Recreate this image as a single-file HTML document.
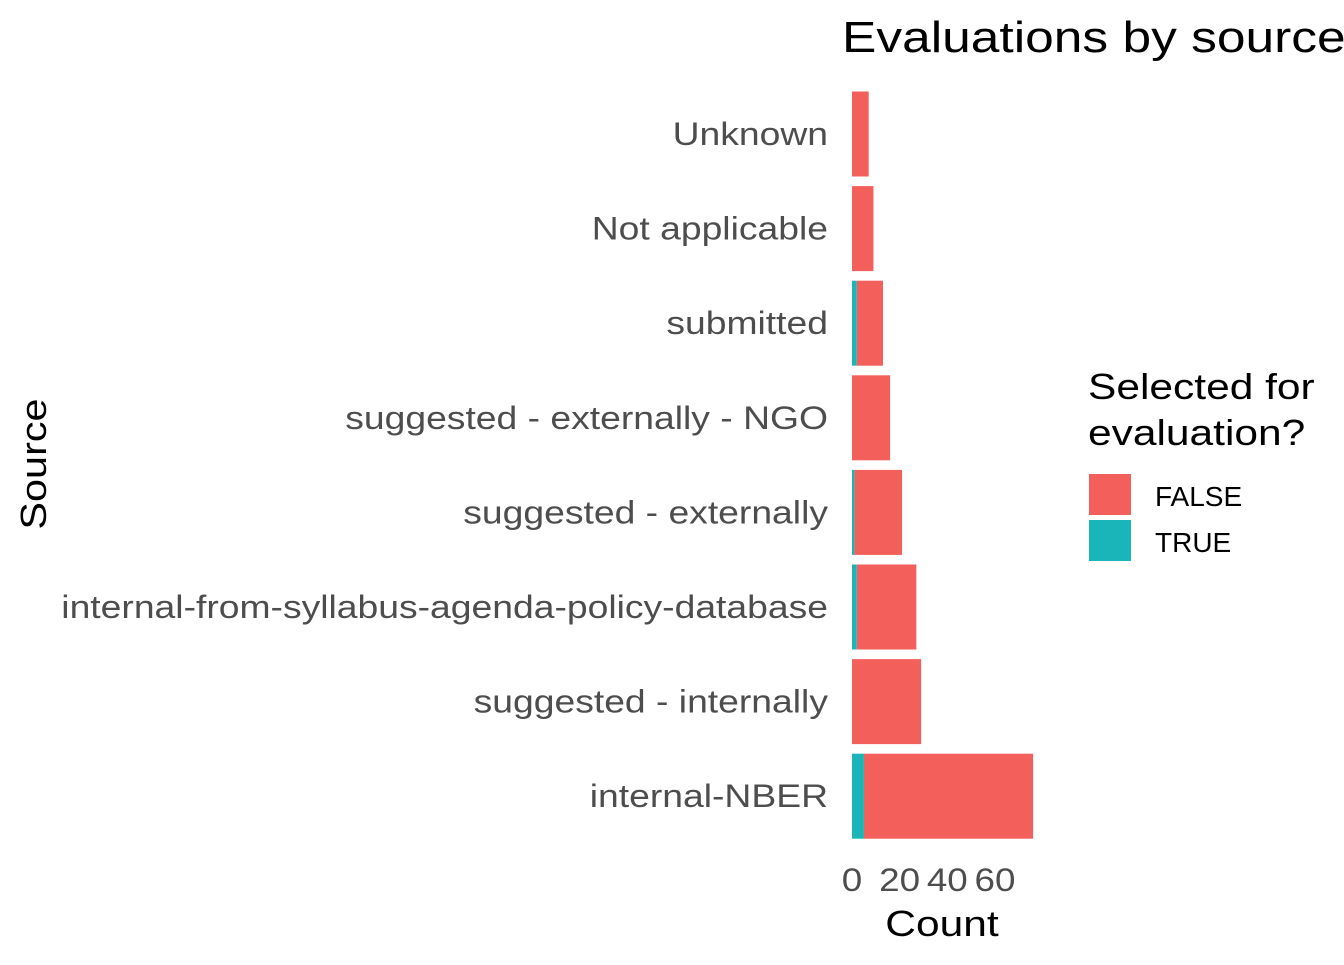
<!DOCTYPE html>
<html><head><meta charset="utf-8"><style>
body{margin:0;background:#fff;font-family:"Liberation Sans",Arial,sans-serif}
</style></head><body>
<svg width="1344" height="960" xmlns="http://www.w3.org/2000/svg" font-family="Liberation Sans, Arial, sans-serif">
<text class="st" data-f="1.17" x="842" y="52" font-size="44" fill="#000">Evaluations by source</text>
<g id="bars"></g>
<g id="ylabels"></g>
<g id="xticks"></g>
<text class="st" data-f="1.18" x="942" y="936" font-size="36" text-anchor="middle" fill="#000">Count</text>
<text class="st" data-f="1.15" transform="translate(46,464) rotate(-90)" x="0" y="0" font-size="36" text-anchor="middle" fill="#000">Source</text>
<g>
<text class="st" data-f="1.18" x="1088" y="399" font-size="36" fill="#000">Selected for</text>
<text class="st" data-f="1.18" x="1088" y="445" font-size="36" fill="#000">evaluation?</text>
<rect x="1089" y="474" width="42" height="41" fill="#F35F5B"/>
<text x="1155" y="506" font-size="28" fill="#000">FALSE</text>
<rect x="1089" y="520" width="42" height="41" fill="#1AB5B8"/>
<text x="1155" y="552" font-size="28" fill="#000">TRUE</text>
</g>
</svg>
<script>
const categories=["Unknown","Not applicable","submitted","suggested - externally - NGO","suggested - externally","internal-from-syllabus-agenda-policy-database","suggested - internally","internal-NBER"];
const totals=[7,9,13,16,21,27,29,76];
const trueCounts=[0,0,2,0,1,2,0,5];
const xTicks=[0,20,40,60];
const x0=852, pxPer=2.383;
function xs(v){return x0+v*pxPer;}
function yc(i){return 134+i*94.6;}
const NS="http://www.w3.org/2000/svg";
const bars=document.getElementById('bars');
const yl=document.getElementById('ylabels');
const xt=document.getElementById('xticks');
categories.forEach((c,i)=>{
  const t=trueCounts[i], tot=totals[i];
  const rf=document.createElementNS(NS,'rect');
  rf.setAttribute('x',xs(t));rf.setAttribute('width',xs(tot)-xs(t));
  rf.setAttribute('y',yc(i)-42.5);rf.setAttribute('height',85);rf.setAttribute('fill','#F35F5B');
  
  
  bars.appendChild(rf);
  if(t>0){
    const rt=document.createElementNS(NS,'rect');
    rt.setAttribute('x',xs(0));rt.setAttribute('width',xs(t)-xs(0));
    rt.setAttribute('y',yc(i)-42.5);rt.setAttribute('height',85);rt.setAttribute('fill','#1AB5B8');
    
    
    bars.appendChild(rt);
  }
  const tx=document.createElementNS(NS,'text');
  tx.setAttribute('x',828);tx.setAttribute('y',yc(i)+11);tx.setAttribute('text-anchor','end');
  tx.setAttribute('font-size','32');tx.setAttribute('fill','#4d4d4d');tx.textContent=c;
  tx.setAttribute('class','st');tx.setAttribute('data-f','1.165');
  
  
  yl.appendChild(tx);
});
xTicks.forEach(v=>{
  const tx=document.createElementNS(NS,'text');
  tx.setAttribute('x',xs(v));tx.setAttribute('y',891);tx.setAttribute('text-anchor','middle');
  tx.setAttribute('font-size','32');tx.setAttribute('fill','#4d4d4d');tx.textContent=v;
  tx.setAttribute('class','st');tx.setAttribute('data-f','1.15');
  
  
  xt.appendChild(tx);
});
document.querySelectorAll('.st').forEach(el=>{
  const f=parseFloat(el.getAttribute('data-f'));
  const w=el.getComputedTextLength();
  el.setAttribute('textLength',w*f);
  el.setAttribute('lengthAdjust','spacingAndGlyphs');
});
</script>
</body></html>
